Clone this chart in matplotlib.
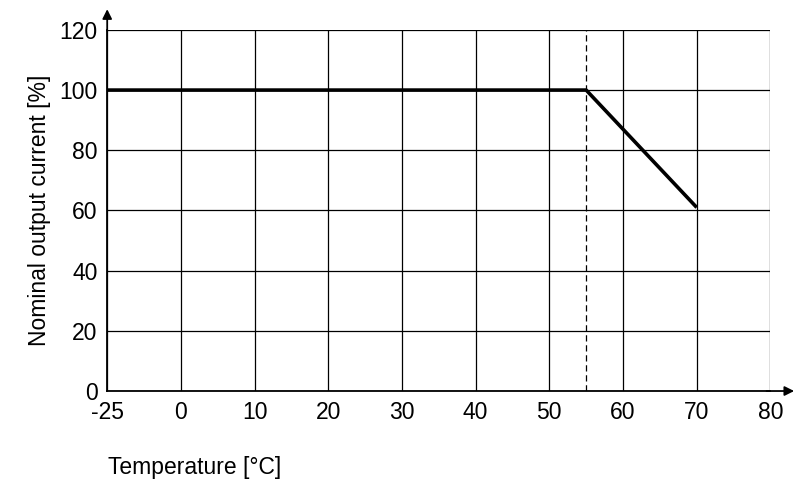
import matplotlib
matplotlib.use('Agg')
import matplotlib.pyplot as plt

plt.rcParams['font.family'] = ['Liberation Sans', 'DejaVu Sans']

# data
temps = [-25, 55, 70]
current = [100, 100, 61]
xtick_labels = [-25, 0, 10, 20, 30, 40, 50, 60, 70, 80]
yticks = [0, 20, 40, 60, 80, 100, 120]
derate_start = 55


def pos(t):
    # -25 sits one grid step left of 0
    return -10 if t == -25 else t


fig = plt.figure(figsize=(8, 4.9), dpi=100)
ax = fig.add_axes([0.134, 0.202, 0.829, 0.737])
ax.set_xlim(-10, 80)
ax.set_ylim(0, 120)

ax.set_xticks([pos(t) for t in xtick_labels])
ax.set_xticklabels([str(t) for t in xtick_labels], fontsize=16.5)
ax.set_yticks(yticks)
ax.set_yticklabels([str(v) for v in yticks], fontsize=16.5)
ax.grid(True, color='black', linewidth=0.9)
ax.tick_params(length=0, pad=7)

for s in ['top', 'right']:
    ax.spines[s].set_visible(False)
for s in ['left', 'bottom']:
    ax.spines[s].set_linewidth(1.3)

ax.plot([pos(t) for t in temps], current, color='black', linewidth=2.6,
        solid_capstyle='butt', zorder=3)
ax.axvline(pos(derate_start), color='black', linestyle=(0, (5, 3)), linewidth=0.9, zorder=3)

# axis arrows
ax.annotate('', xy=(1.04, 0), xytext=(0.99, 0), xycoords='axes fraction',
            arrowprops=dict(arrowstyle='-|>', color='black', lw=1.3, mutation_scale=14),
            annotation_clip=False)
ax.annotate('', xy=(0, 1.065), xytext=(0, 0.99), xycoords='axes fraction',
            arrowprops=dict(arrowstyle='-|>', color='black', lw=1.3, mutation_scale=14),
            annotation_clip=False)

ax.set_ylabel('Nominal output current [%]', fontsize=16.5, labelpad=6)
fig.text(0.135, 0.045, 'Temperature [°C]', fontsize=16.5, ha='left', va='center')

fig.savefig('out.png', dpi=100)
